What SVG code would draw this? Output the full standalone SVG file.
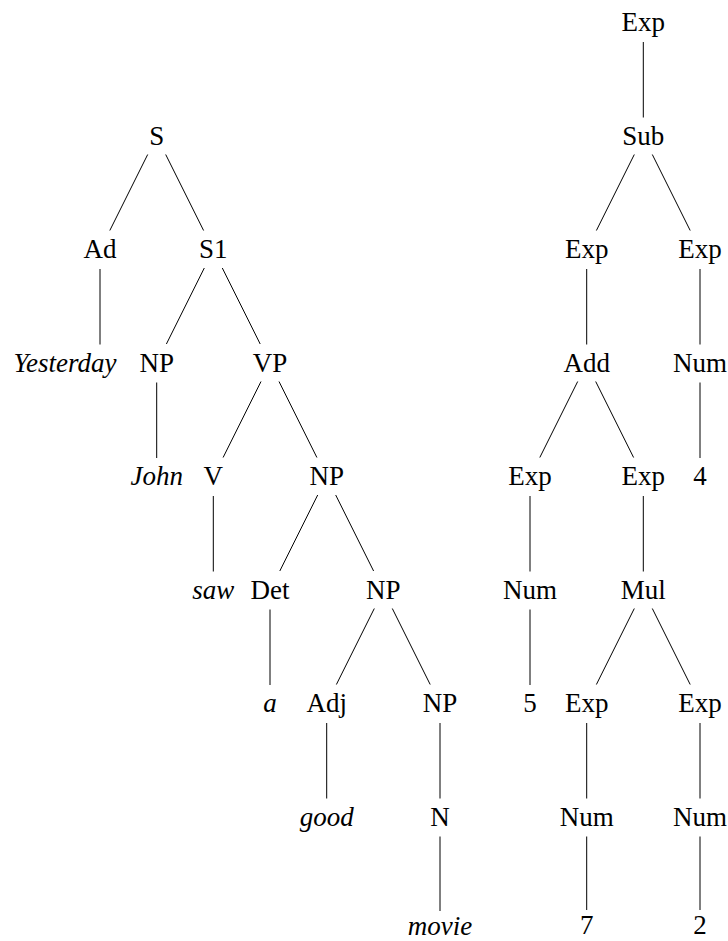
<svg xmlns="http://www.w3.org/2000/svg" width="728" height="941" viewBox="0 0 728 941">
<style>
text{font-family:"Liberation Serif","Times New Roman",serif;font-size:27px;fill:#000;text-anchor:middle}
.it{font-style:italic}
#edges line{stroke:#000;stroke-width:1}
</style>
<rect width="728" height="941" fill="#fff"/>
<g id="edges">
<line x1="147.7" y1="154.5" x2="109.8" y2="230.5"/>
<line x1="165.7" y1="154.5" x2="203.6" y2="230.5"/>
<line x1="100" y1="269" x2="100" y2="344.5"/>
<line x1="204.3" y1="268" x2="166.4" y2="344"/>
<line x1="222.3" y1="268" x2="260.2" y2="344"/>
<line x1="156.7" y1="382.5" x2="156.7" y2="458"/>
<line x1="261" y1="381.5" x2="223.1" y2="457.5"/>
<line x1="279" y1="381.5" x2="316.9" y2="457.5"/>
<line x1="213.3" y1="496" x2="213.3" y2="571.5"/>
<line x1="317.7" y1="495" x2="279.8" y2="571"/>
<line x1="335.7" y1="495" x2="373.6" y2="571"/>
<line x1="270" y1="609.5" x2="270" y2="685"/>
<line x1="374.3" y1="608.5" x2="336.4" y2="684.5"/>
<line x1="392.3" y1="608.5" x2="430.2" y2="684.5"/>
<line x1="326.7" y1="723" x2="326.7" y2="798.5"/>
<line x1="440" y1="723" x2="440" y2="798.5"/>
<line x1="440" y1="836.5" x2="440" y2="911"/>
<line x1="643.3" y1="42" x2="643.3" y2="117.5"/>
<line x1="634.3" y1="154.5" x2="596.4" y2="230.5"/>
<line x1="652.3" y1="154.5" x2="690.2" y2="230.5"/>
<line x1="586.7" y1="269" x2="586.7" y2="344.5"/>
<line x1="700" y1="269" x2="700" y2="344.5"/>
<line x1="577.7" y1="381.5" x2="539.8" y2="457.5"/>
<line x1="595.7" y1="381.5" x2="633.6" y2="457.5"/>
<line x1="700" y1="382.5" x2="700" y2="458"/>
<line x1="530" y1="496" x2="530" y2="571.5"/>
<line x1="643.3" y1="496" x2="643.3" y2="571.5"/>
<line x1="530" y1="609.5" x2="530" y2="685"/>
<line x1="634.3" y1="608.5" x2="596.4" y2="684.5"/>
<line x1="652.3" y1="608.5" x2="690.2" y2="684.5"/>
<line x1="586.7" y1="723" x2="586.7" y2="798.5"/>
<line x1="700" y1="723" x2="700" y2="798.5"/>
<line x1="586.7" y1="836.5" x2="586.7" y2="910"/>
<line x1="700" y1="836.5" x2="700" y2="910"/>
</g>
<g id="n-S"><text x="156.7" y="144.5">S</text></g>
<g id="n-Ad"><text x="100" y="258">Ad</text></g>
<g id="n-S1"><text x="213.3" y="258">S1</text></g>
<g id="n-Yesterday"><text class="it" x="65" y="371.5">Yesterday</text></g>
<g id="n-NP1"><text x="156.7" y="371.5">NP</text></g>
<g id="n-VP"><text x="270" y="371.5">VP</text></g>
<g id="n-John"><text class="it" x="156.7" y="485">John</text></g>
<g id="n-V"><text x="213.3" y="485">V</text></g>
<g id="n-NP2"><text x="326.7" y="485">NP</text></g>
<g id="n-saw"><text class="it" x="213.3" y="598.5">saw</text></g>
<g id="n-Det"><text x="270" y="598.5">Det</text></g>
<g id="n-NP3"><text x="383.3" y="598.5">NP</text></g>
<g id="n-a"><text class="it" x="270" y="712">a</text></g>
<g id="n-Adj"><text x="326.7" y="712">Adj</text></g>
<g id="n-NP4"><text x="440" y="712">NP</text></g>
<g id="n-good"><text class="it" x="326.7" y="825.5">good</text></g>
<g id="n-N"><text x="440" y="825.5">N</text></g>
<g id="n-movie"><text class="it" x="440" y="935">movie</text></g>
<g id="r-Exp0"><text x="643.3" y="31">Exp</text></g>
<g id="r-Sub"><text x="643.3" y="144.5">Sub</text></g>
<g id="r-Exp1"><text x="586.7" y="258">Exp</text></g>
<g id="r-Exp2"><text x="700" y="258">Exp</text></g>
<g id="r-Add"><text x="586.7" y="371.5">Add</text></g>
<g id="r-Num1"><text x="700" y="371.5">Num</text></g>
<g id="r-Exp3"><text x="530" y="485">Exp</text></g>
<g id="r-Exp4"><text x="643.3" y="485">Exp</text></g>
<g id="r-4"><text x="700" y="485">4</text></g>
<g id="r-Num2"><text x="530" y="598.5">Num</text></g>
<g id="r-Mul"><text x="643.3" y="598.5">Mul</text></g>
<g id="r-5"><text x="530" y="712">5</text></g>
<g id="r-Exp5"><text x="586.7" y="712">Exp</text></g>
<g id="r-Exp6"><text x="700" y="712">Exp</text></g>
<g id="r-Num3"><text x="586.7" y="825.5">Num</text></g>
<g id="r-Num4"><text x="700" y="825.5">Num</text></g>
<g id="r-7"><text x="586.7" y="934">7</text></g>
<g id="r-2"><text x="700" y="934">2</text></g>
</svg>
